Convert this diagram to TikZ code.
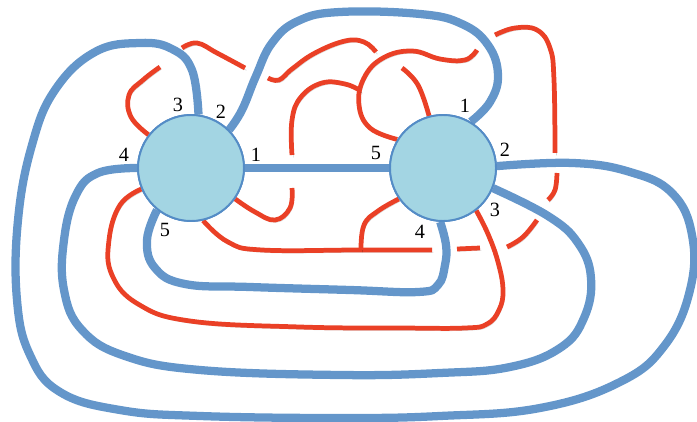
\documentclass[tikz,border=0pt]{standalone}
\usepackage{fontspec}
\setmainfont{Liberation Serif}
\definecolor{strandblue}{RGB}{100,150,202}
\definecolor{strandred}{RGB}{234,64,38}
\definecolor{hubfill}{RGB}{163,213,227}
\definecolor{hubline}{RGB}{84,140,198}
\tikzset{
  shadowed/.style={preaction={draw=black, draw opacity=0.16, transform canvas={shift={(0.8pt,-1.3pt)}}}},
  bluestrand/.style={shadowed, line width=4.7pt, color=strandblue},
  redstrand/.style={shadowed, line width=2.7pt, color=strandred},
  hub/.style={circle, draw=hubline, fill=hubfill, line width=1.1pt, minimum size=2.12cm, inner sep=0pt},
  portlabel/.style={font=\fontsize{11.5}{13}\selectfont, inner sep=0pt}
}

\begin{document}
\begin{tikzpicture}[x=0.02cm, y=-0.02cm, smooth, tension=0.7]
			%%%%% START %%%%%
			\useasboundingbox (0,0) rectangle (697,422);
			
			\node[hub] (L) at (191,168) {};
			\node[hub] (R) at (443,168) {};
			
			% blue strands
			\draw[bluestrand] (L.0) -- (R.180);
			\draw[bluestrand] plot coordinates {(L.45) (242,110) (256,76) (272,43) (298,21) (340,12) (420,14) (462,24) (488,45) (498,75) (490,102) (R.59)};
			\draw[bluestrand] plot coordinates {(R.2) (573,163) (630,172) (672,193) (692,235) (690,290) (665,345) (620,382) (540,408) (440,416) (340,418) (200,416) (120,410) (60,392) (30,355) (17,300) (18,220) (32,145) (55,90) (95,52) (140,43) (172,49) (192,70) (L.82)};
			\draw[bluestrand] plot coordinates {(L.180) (98,173) (76,195) (64,240) (64,290) (82,330) (125,356) (200,370) (340,375) (440,373) (510,367) (560,348) (584,318) (591,278) (578,243) (548,216) (R.-22)};
			\draw[bluestrand] plot coordinates {(L.231) (147,240) (155,268) (185,284) (250,287) (350,290) (418,292) (438,285) (445,265) (446,245) (R.-93)};
			
			% red strands
			\draw[redstrand] plot coordinates {(L.142) (131,117) (129,95) (143,80) (160,67)};
			\draw[redstrand] plot coordinates {(182,48) (197,43) (217,53) (245,68)};
			\draw[redstrand] plot coordinates {(268,78) (279,80) (292,69) (315,53) (345,41) (364,42) (376,52)};
			\draw[redstrand] plot coordinates {(402,68) (418,85) (R.105)};
			
			\draw[redstrand] plot coordinates {(R.148) (370,128) (359,105) (364,78) (383,58) (412,51) (440,59) (465,60) (477,50)};
			\draw[redstrand] plot coordinates {(495,35) (515,28) (537,30) (550,48) (554,80) (555,153)};
			\draw[redstrand] plot coordinates {(557,173) (555,190) (548,200)};
			\draw[redstrand] plot coordinates {(537,220) (523,237) (507,247)};
			\draw[redstrand] (480,248) -- (457,249);
			\draw[redstrand] plot coordinates {(432,250) (360,250) (262,250) (228,242) (L.-77)};
			\draw[redstrand] plot coordinates {(R.215) (378,211) (364,225) (361,250)};
			
			\draw[redstrand] plot coordinates {(L.-35) (255,212) (275,220) (290,208) (292,188)};
			\draw[redstrand] plot coordinates {(292,155) (292,120) (301,97) (322,83) (345,84) (361,91)};
			
			\draw[redstrand] plot coordinates {(L.203) (120,205) (109,240) (112,275) (138,304) (190,321) (300,327) (400,328) (465,328) (487,324) (499,310) (503,290) (498,262) (488,234) (R.-52)};
			
			% hubs on top
			\node[hub] at (L) {};
			\node[hub] at (R) {};
			
			% port labels
			\node[portlabel] (l1) at (256,155) {1};
			\node[portlabel] (l2) at (221,112) {2};
			\node[portlabel] (l3) at (178,105) {3};
			\node[portlabel] (l4) at (124,155) {4};
			\node[portlabel] (l5) at (165,230) {5};
			\node[portlabel] (r1) at (465,106) {1};
			\node[portlabel] (r2) at (505,150) {2};
			\node[portlabel] (r3) at (495,210) {3};
			\node[portlabel] (r4) at (420,232) {4};
			\node[portlabel] (r5) at (376,153) {5};
			
			%%%%% END %%%%%
\end{tikzpicture}
\end{document}
